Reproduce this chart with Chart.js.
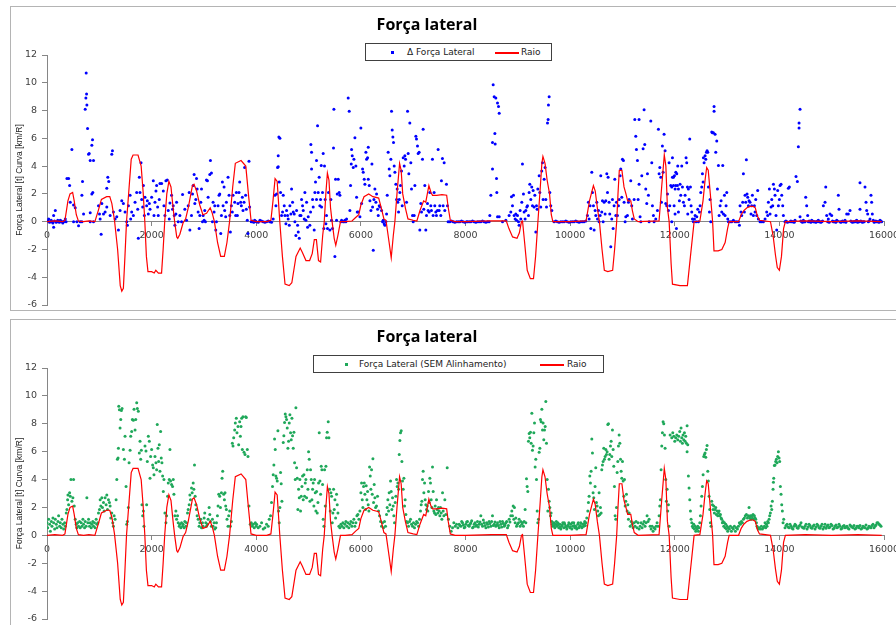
<!DOCTYPE html>
<html>
<head>
<meta charset="utf-8">
<script src="https://cdn.jsdelivr.net/npm/chart.js@4.4.1/dist/chart.umd.min.js"></script>
<style>
  html, body { margin: 0; padding: 0; background: #fff; width: 896px; height: 625px; overflow: hidden; position: relative; }
  .box { position: absolute; border: 1px solid #b4b4b4; box-sizing: border-box; }
  canvas { position: absolute; }
  .title { position: absolute; left: 0; width: 854px; text-align: center; font: bold 16px "Open Sans", sans-serif; line-height: 22px; color: #000; }
  .legend { position: absolute; border: 1px solid #404040; box-sizing: border-box; height: 18px; background: #fff;
            font: 9px "DejaVu Sans", sans-serif; color: #222; }
  .legend span { position: absolute; top: 2px; line-height: 12px; white-space: nowrap; }
  .legend .dot { position: absolute; width: 3px; height: 3px; top: 7px; }
  .legend .ln { position: absolute; height: 1.5px; top: 8px; width: 24px; background: #ff0000; }
</style>
</head>
<body>
<div class="box" style="left:10px; top:6px; width:900px; height:305px;"></div>
<div class="box" style="left:10px; top:319px; width:900px; height:320px;"></div>

<canvas id="chartTop" width="900" height="302" style="left:11px; top:7px;"></canvas>
<canvas id="chartBottom" width="900" height="305" style="left:11px; top:320px;"></canvas>

<div class="title" style="top:13px;">Força lateral</div>
<div class="legend" style="left:365px; top:43px; width:187px;">
  <div class="dot" style="left:25px; background:#0000ff;"></div>
  <span style="left:41px;">Δ Força Lateral</span>
  <div class="ln" style="left:129px;"></div>
  <span style="left:155px;">Raio</span>
</div>

<div class="title" style="top:325px;">Força lateral</div>
<div class="legend" style="left:313px; top:355px; width:291px;">
  <div class="dot" style="left:31px; background:#1fa85a;"></div>
  <span style="left:45px;">Força Lateral (SEM Alinhamento)</span>
  <div class="ln" style="left:226px;"></div>
  <span style="left:253px;">Raio</span>
</div>

<script>
// axis ticks
const xTicks = [0, 2000, 4000, 6000, 8000, 10000, 12000, 14000, 16000];
const yTicks = [-6, -4, -2, 0, 2, 4, 6, 8, 10, 12];
const yAxisTitle = 'Força Lateral [t] Curva [km/R]';

// Raio (curvature) - same line in both charts
const raio = [
  [0,0],[150,0.05],[300,0],[343,0.1],[400,1.5],[440,2.0],[490,2.1],[520,1.5],[560,0.5],[600,0.05],[700,0],[800,0.05],
  [915,0],[980,0.8],[1040,1.6],[1140,1.8],[1200,1.8],[1240,1.3],[1290,0.1],[1350,-2.0],[1400,-4.6],[1430,-5.0],[1460,-4.8],
  [1490,-2.5],[1520,0],[1570,2.5],[1610,4.5],[1645,4.8],[1740,4.8],[1800,4.0],[1840,2.0],[1870,0],[1900,-2.5],[1930,-3.6],
  [2000,-3.6],[2050,-3.7],[2080,-3.5],[2130,-3.7],[2190,-3.7],[2220,-2.0],[2250,0],[2290,2.0],[2330,2.9],[2370,2.5],
  [2410,1.0],[2440,0],[2480,-1.1],[2500,-1.2],[2540,-0.9],[2600,-0.1],[2650,0.2],[2700,1.0],[2780,2.6],[2810,2.7],
  [2860,2.2],[2920,1.2],[2980,0.5],[3050,0.6],[3120,1.0],[3160,0.6],[3200,0],[3260,-1.5],[3320,-2.5],[3390,-2.5],
  [3440,-1.5],[3490,0],[3550,2.5],[3600,4.2],[3710,4.4],[3800,4.0],[3850,2.0],[3900,0.1],[4000,0],[4200,0],[4280,0.1],
  [4320,1.5],[4360,3.1],[4400,2.9],[4450,0],[4500,-2.5],[4550,-4.5],[4630,-4.6],[4680,-4.4],[4760,-2.5],[4840,-1.9],
  [4880,-2.2],[4950,-2.8],[5020,-2.8],[5070,-2.3],[5110,-1.3],[5150,-1.3],[5190,-2.8],[5230,-2.9],[5270,-1.0],[5300,0],
  [5330,2.0],[5360,3.5],[5390,3.0],[5420,1.0],[5450,0],[5490,-1.2],[5520,-1.7],[5560,-1.0],[5610,0],[5700,0],[5830,0.05],
  [5900,0.3],[5960,0.5],[6000,1.2],[6060,1.8],[6150,2.0],[6230,1.8],[6340,1.7],[6390,1.0],[6440,0.2],[6480,0.1],
  [6540,-1.5],[6580,-2.6],[6620,-1.0],[6650,0],[6690,2.0],[6740,4.2],[6770,3.7],[6800,2.0],[6850,1.0],[6900,0.2],
  [7000,0.1],[7070,0.05],[7130,0.8],[7200,1.5],[7240,1.4],[7270,2.0],[7300,2.6],[7340,2.1],[7370,1.9],[7450,1.9],
  [7550,1.95],[7640,1.9],[7670,1.0],[7710,0.1],[7800,0],[8000,0],[8500,0.05],[8780,0.05],[8830,-0.5],[8900,-1.1],
  [8985,-1.2],[9030,-0.8],[9070,0],[9090,0.05],[9130,-1.5],[9180,-3.5],[9240,-4.1],[9300,-4.1],[9340,-2.5],[9384,0],
  [9430,2.5],[9460,4.2],[9480,4.7],[9520,4.2],[9560,3.0],[9607,2.0],[9640,0.5],[9670,0],[10000,0],[10305,0.05],
  [10370,1.5],[10445,2.6],[10480,2.2],[10520,1.0],[10560,0],[10610,-2.0],[10654,-3.5],[10720,-3.6],[10813,-3.5],
  [10850,-2.0],[10890,0],[10915,2.0],[10940,3.7],[10990,3.7],[11030,2.5],[11067,2.0],[11100,1.5],[11160,1.5],[11190,0.8],
  [11226,0.2],[11300,0],[11700,0.05],[11750,2.5],[11800,4.8],[11830,4.0],[11860,1.0],[11893,0],[11930,-3.0],[11956,-4.5],
  [12100,-4.6],[12242,-4.6],[12300,-2.5],[12370,0],[12480,0.05],[12540,1.5],[12580,3.0],[12610,3.9],[12640,3.7],
  [12680,2.0],[12724,0],[12750,-2.1],[12830,-2.1],[12900,-2.0],[12963,-1.5],[13010,-0.5],[13040,0],[13220,0],[13270,0.5],
  [13320,0.8],[13380,1.0],[13446,1.1],[13500,1.1],[13540,1.0],[13580,0.4],[13620,0.1],[13830,0],[13880,-1.0],[13925,-2.4],
  [13960,-3.3],[14000,-3.5],[14040,-2.5],[14080,-0.5],[14115,0],[14500,0.05],[15000,0],[15500,0.05],[15957,0]
];

// Δ Força Lateral (top chart)
const deltaForca = [
  [32,0.2],[64,0],[127,0.45],[159,0.8],[190,0],[254,0.1],[318,0],[350,0.2],[127,-0.4],
  [16,0.05],[48,-0.05],[80,0.1],[96,0],[112,-0.1],[143,0.05],[175,-0.05],[206,0.1],[222,0],[238,-0.05],[270,0.05],
  [286,0],[302,-0.1],[334,0.05],[365,0],
  [381,3.1],[413,3.1],[432,2.6],[445,1.4],[476,5.2],[508,1.2],[508,0],[540,1.0],[572,0],[603,-0.3],[635,0],
  [667,1.9],[679,2.9],[730,8.1],[743,8.9],[756,9.2],[749,10.7],[762,8.4],[775,6.7],[794,4.85],[806,4.9],[826,4.4],
  [857,5.5],[870,5.9],[889,4.4],[857,2.0],[876,2.1],[826,0.65],[826,0],[889,0],[699,0.55],[667,0],
  [984,1.15],[1003,0.55],[1016,0.2],[1035,-0.9],[1048,1.3],[1080,0.55],[1111,0.7],[1143,1.05],[1143,2.4],[1162,3.2],
  [1181,2.9],[1207,0.45],[1238,4.85],[1251,5.1],[1270,0.7],[1302,0.2],[1334,0.35],[1365,-0.6],[1397,0.8],[1429,1.5],
  [1460,1.3],[1492,0.7],[1524,0],[1537,-0.25],[1556,1.15],[1588,1.9],[1600,0.2],[1619,0.7],[1651,0.45],[1683,1.4],
  [1715,2.1],[1734,0.9],[1746,-1.2],[1765,3.2],[1778,2.1],[1797,4.25],[1810,1.6],[1829,1.05],[1842,2.6],[1861,0.45],
  [1873,1.75],[1905,1.15],[1918,1.5],[1937,0.55],[1956,1.3],[1969,0.9],[2000,1.75],[2032,2.95],[2045,0.45],[2064,1.4],
  [2083,2.2],[2096,2.6],[2115,1.05],[2127,0.45],[2146,1.6],[2159,2.75],[2191,2.75],[2223,2.2],[2235,1.15],[2254,0.45],
  [2273,2.95],[2299,3.0],[2318,0.8],[2337,0.2],[2350,1.35],[2381,1.9],[2400,0.9],[2413,1.15],[2432,0.45],[2445,-0.25],
  [2464,0.55],[2477,1.4],[2508,0],[2540,0.45],[2572,0],[2591,1.95],[2635,0.9],[2667,0.1],[2699,1.15],[2718,2.1],
  [2731,-0.6],[2762,0.45],[2781,2.0],[2794,2.6],[2813,3.4],[2826,1.3],[2845,1.6],[2858,3.1],[2870,2.35],[2889,0.7],
  [2908,-0.5],[2921,0.45],[2940,1.4],[2953,2.35],[2972,0],[2985,0.45],[3004,0.1],[3016,0.8],[3029,0],[3048,3.0],
  [3067,2.95],[3080,1.75],[3112,3.4],[3124,4.4],[3143,3.5],[3162,0],[3175,1.4],[3194,0.7],[3207,1.15],[3226,-0.6],
  [3239,0],[3270,1.15],[3289,1.9],[3302,2.0],[3321,-0.85],[3334,0.45],[3353,2.85],[3366,1.15],[3385,2.5],[3397,0.8],
  [3416,0.35],[3429,1.4],[3461,3.2],[3480,1.9],[3493,0.45],[3505,-0.75],[3524,1.15],[3543,0.7],[3556,1.9],[3588,1.4],
  [3607,0.45],[3620,2.1],[3639,0.45],[3651,1.3],[3670,2.1],[3683,2.85],[3702,1.4],[3715,1.15],[3734,1.75],[3747,0.8],
  [3766,1.4],[3778,3.9],[3797,1.9],[3810,0.9],[3829,0.1],[3842,-0.85],[3861,4.35],[3873,1.05],[3905,0],[3937,0],
  [3969,0.1],[4000,0],[3921,0.05],[3953,-0.05],[3985,0.05],[4038,-0.05],[4102,0.05],[4165,-0.05],[4229,0.05],[4292,-0.05],
  [4070,0.1],[4133,0],[4197,0],[4260,0],[4324,0.2],[4357,1.9],[4376,1.15],[4388,2.0],[4407,3.9],[4420,3.95],[4420,4.75],
  [4433,6.1],[4452,6.0],[4439,2.85],[4465,2.1],[4484,0.45],[4503,0.7],[4516,1.9],[4535,1.15],[4548,0.45],[4567,-0.15],
  [4580,0.8],[4599,0.45],[4611,0.2],[4631,-0.25],[4643,1.15],[4662,0.55],[4675,2.35],[4694,1.4],[4707,0.7],[4726,0.55],
  [4739,0],[4758,-1.0],[4771,0.8],[4790,-0.25],[4803,-0.75],[4822,-1.2],[4834,0.45],[4854,0.45],[4866,1.6],[4885,1.15],
  [4898,0.8],[4917,0.2],[4930,2.1],[4949,0.1],[4962,1.4],[4981,-0.4],[4994,0.35],[5025,-0.25],[5038,0.7],[5044,5.55],
  [5057,5.0],[5057,3.8],[5076,1.6],[5089,1.05],[5108,-0.6],[5121,2.1],[5133,2.85],[5152,4.4],[5152,1.6],[5172,6.9],
  [5184,2.1],[5203,3.2],[5216,1.15],[5229,1.6],[5242,4.05],[5248,1.05],[5267,2.1],[5280,4.9],[5292,-0.5],[5305,4.0],
  [5318,1.6],[5331,-0.15],[5343,0.45],[5362,-0.5],[5381,2.1],[5407,-0.6],[5426,1.6],[5439,0.1],[5458,-0.5],[5477,5.3],
  [5484,8.1],[5503,-2.5],[5516,3.05],[5535,0.1],[5548,2.0],[5567,3.05],[5586,2.1],[5599,1.9],[5618,0],[5631,0.1],
  [5662,0],[5681,0],[5694,0.1],[5713,0],[5726,0.2],[5758,8.9],[5777,7.95],[5790,0.8],[5803,2.6],[5816,4.15],[5822,5.2],
  [5835,4.75],[5854,3.9],[5867,4.5],[5886,6.05],[5905,4.0],[5918,1.75],[5931,0.7],[5950,0.7],[5982,0.35],[6000,6.75],
  [6013,1.3],[6032,3.8],[6045,3.55],[6064,3.05],[6077,2.7],[6096,5.0],[6109,4.5],[6128,4.6],[6141,5.35],[6141,3.05],
  [6160,2.6],[6173,1.5],[6192,0.8],[6211,4.15],[6224,1.05],[6237,-2.05],[6250,1.6],[6268,2.35],[6287,1.4],[6300,2.0],
  [6319,0.9],[6332,0.45],[6351,1.15],[6364,1.05],[6395,0.8],[6415,0],[6427,0.1],[6446,-0.15],[6459,-0.25],[6478,0],
  [6491,0.55],[6504,1.9],[6522,5.0],[6541,3.8],[6554,3.3],[6573,4.5],[6586,7.95],[6599,6.6],[6612,6.1],[6624,5.7],
  [6637,4.0],[6650,3.55],[6669,2.7],[6682,1.6],[6694,2.35],[6707,1.4],[6720,0.7],[6733,1.6],[6745,2.1],[6758,2.6],
  [6777,3.65],[6790,1.15],[6809,4.6],[6828,4.0],[6841,4.75],[6854,4.5],[6873,1.4],[6892,7.95],[6904,4.9],[6917,3.45],
  [6936,7.1],[6955,4.25],[6968,2.35],[6987,0.45],[7000,0],[7019,0.45],[7032,2.6],[7051,6.15],[7063,5.95],[7082,5.45],
  [7095,4.9],[7114,5.0],[7127,-0.6],[7146,1.3],[7159,0.7],[7178,4.5],[7190,6.65],[7203,0.9],[7222,2.6],[7241,-0.6],
  [7254,0.45],[7273,1.3],[7286,0.8],[7305,0.7],[7318,2.1],[7337,1.15],[7349,0.8],[7368,4.5],[7381,0.45],[7400,2.1],
  [7413,1.15],[7432,0.7],[7445,0.45],[7464,0.8],[7477,5.2],[7496,0.8],[7508,1.15],[7528,0.45],[7540,2.95],[7559,4.55],
  [7572,1.15],[7592,4.25],[7604,0.8],[7636,2.7],[7655,1.15],[7668,0],[7700,0],[7764,0],[7828,0],[7891,0],[7955,0],[8019,0],
  [7732,0.05],[7796,-0.05],[7860,0],[7923,0.05],[7987,-0.05],[8070,0],[8134,0.05],[8197,-0.05],[8261,0],[8325,0.05],
  [8389,-0.05],[8452,0],
  [8038,0],[8102,0],[8165,0],[8229,0],[8293,0],[8357,0],[8420,0],[8465,0.45],[8485,1.9],[8516,3.8],[8516,5.7],[8529,9.85],
  [8548,9.0],[8561,6.35],[8567,5.6],[8580,8.9],[8593,3.1],[8599,2.1],[8612,8.55],[8631,8.3],[8644,7.8],[8612,0.35],
  [8644,0.35],[8707,0],[8771,0.1],[8834,0.45],[8866,0.7],[8879,1.8],[8898,1.15],[8917,1.9],[8930,0.45],[8949,0.2],
  [8962,0.55],[8975,0.1],[8994,0.45],[9013,0],[9025,-0.25],[9044,0.8],[9057,0.2],[9076,1.4],[9089,4.15],[9108,2.0],
  [9121,0.7],[9140,0.2],[9153,0.8],[9172,1.05],[9185,1.15],[9204,0.45],[9216,2.1],[9229,2.7],[9248,1.6],[9267,2.5],
  [9280,1.15],[9293,2.25],[9312,1.05],[9325,1.9],[9344,-0.75],[9357,1.15],[9369,0.9],[9382,2.35],[9408,3.3],[9420,2.1],
  [9439,1.05],[9458,3.65],[9471,4.25],[9484,1.6],[9503,3.05],[9522,3.9],[9535,1.6],[9548,1.05],[9567,7.1],[9580,7.35],
  [9586,8.4],[9599,9.0],[9612,2.1],[9630,1.15],[9650,0.8],[9694,0],[9758,0],[9822,0],[9885,0],[9949,0],[10013,0],
  [10076,0],[10140,0],[10204,0],[10267,0],
  [9726,0.05],[9790,-0.05],[9854,0],[9917,0.05],[9981,-0.05],[10045,0],[10108,0.05],[10172,-0.05],[10236,0],[10300,0.05],
  [10331,0.45],[10350,1.4],[10363,0.2],[10382,1.15],[10395,-0.5],[10414,3.55],[10427,2.1],[10446,1.15],[10459,-0.6],
  [10478,0.8],[10491,0.45],[10510,1.4],[10523,0.2],[10542,0.8],[10554,0],[10574,0.45],[10586,3.3],[10605,0.7],[10618,1.5],
  [10631,0],[10650,1.4],[10669,0.55],[10682,1.5],[10701,3.45],[10714,2.1],[10726,3.2],[10745,1.4],[10758,0.55],
  [10777,-1.8],[10796,0.2],[10809,1.6],[10822,-0.5],[10841,1.15],[10854,3.05],[10873,0.45],[10886,1.4],[10905,0.45],
  [10924,1.15],[10937,1.6],[10956,3.3],[10968,3.8],[10987,1.75],[11000,4.5],[11019,4.4],[11032,1.4],[11051,0],[11064,0.35],
  [11096,0.45],[11115,1.4],[11127,1.6],[11159,2.95],[11178,1.15],[11191,0.2],[11223,1.6],[11236,7.35],[11255,6.15],
  [11268,5.2],[11287,4.4],[11300,1.6],[11318,7.35],[11318,2.7],[11337,0.35],[11351,0],[11370,3.3],[11395,5.25],[11414,8.05],
  [11427,5.55],[11446,2.35],[11465,1.3],[11478,3.45],[11497,1.9],[11510,0],[11542,7.25],[11561,4.25],[11573,1.15],
  [11592,0.45],[11605,0],[11637,0.2],[11669,0.8],[11688,6.65],[11701,3.45],[11714,3.9],[11733,3.2],[11746,1.4],[11764,5.45],
  [11777,3.55],[11796,6.3],[11815,5.1],[11828,1.3],[11847,1.15],[11860,2.0],[11879,0.8],[11892,4.25],[11905,1.15],
  [11924,2.6],[11943,0],[11956,3.2],[11975,2.6],[11988,1.15],[12007,2.35],[12020,3.55],[12032,-0.5],[12051,2.6],[12070,0.7],
  [11943,2.5],[11956,4.6],[11975,3.2],[11994,3.3],[12006,0.55],[12019,2.6],[12038,3.45],[12057,4.0],[12070,2.35],
  [12089,1.5],[12102,2.7],[12115,1.9],[12134,4.0],[12147,2.5],[12166,1.4],[12185,1.15],[12198,1.9],[12216,4.6],[12229,4.25],
  [12242,2.5],[12249,0.55],[12261,2.35],[12274,1.6],[12287,5.95],[12300,2.5],[12312,1.15],[12325,0.7],[12338,0.2],[12357,0],
  [12376,0.2],[12389,0.45],[12408,0],[12421,0.35],[12440,0.9],[12452,0],[12472,0.7],[12484,1.15],[12497,2.1],[12516,2.5],
  [12529,3.45],[12542,2.85],[12548,4.6],[12561,4.25],[12580,4.75],[12593,4.5],[12606,5.0],[12618,5.1],[12631,5.0],
  [12644,2.5],[12663,0.7],[12675,1.6],[12688,0],[12707,6.45],[12720,6.4],[12739,6.4],[12752,8.3],[12752,7.95],[12771,6.3],
  [12784,5.0],[12803,5.8],[12816,2.35],[12835,4.05],[12848,0.45],[12867,1.15],[12886,1.5],[12899,0.7],[12918,4.05],
  [12931,0.55],[12950,1.9],[12962,0.45],[12981,1.15],[12994,2.1],[13013,0.2],[13026,0],[13057,0],[13089,0],[13121,0.1],
  [13153,0],[13185,0],[13217,0],[13236,-0.25],[13248,1.15],[13267,0.7],[13280,0.45],[13299,1.4],[13312,3.45],[13331,0.7],
  [13344,1.9],[13357,1.4],[13369,4.45],[13382,2.0],[13395,1.75],[13408,1.15],[13420,1.5],[13439,1.4],[13458,0.55],
  [13471,1.15],[13484,1.9],[13503,0.45],[13522,1.15],[13535,0.7],[13548,1.6],[13567,0.45],[13586,2.25],[13599,0.2],
  [13631,0],[13662,0],[13694,0],[13726,0.2],[13758,0.7],[13777,0.45],[13790,1.4],[13809,2.35],[13822,0.55],[13841,1.05],
  [13854,1.6],[13873,1.15],[13886,2.7],[13905,2.35],[13917,1.9],[13936,0.45],[13949,-0.6],[13968,2.25],[13981,1.15],
  [14000,1.6],[14013,2.6],[14032,2.7],[14045,1.9],[14064,1.15],[14077,0.45],[14108,0],[14140,0],[14172,2.4],[14191,2.5],
  [14204,0],[14236,0],[14268,0],[14299,0.1],[14318,3.25],[14344,2.9],[14363,5.4],[14376,6.75],[14376,7.1],[14395,8.1],
  [14395,0.35],[14427,0],[14459,0.1],[14491,0],[14503,1.75],[14522,1.15],[14541,0.45],[14554,0],[14586,0],[14618,0.1],
  [14650,0],[14682,0],[14714,0],[14745,0.1],[14777,0],[14809,0],[14841,1.15],[14873,1.4],[14886,2.5],[14905,0.45],
  [14924,0],[14936,0.2],[14968,0.55],[15000,0.45],[15032,0],[15064,0],[15096,0.1],[15127,1.9],[15140,0.9],[15159,0],
  [15191,0],[15223,0],[15255,0.1],[15287,0.55],[15318,0.55],[15350,0.8],[15382,0],[15414,0],[15446,0],[15478,0.1],
  [15509,0],[15541,2.8],[15541,0.9],[15573,0],[15605,0],[15637,2.5],[15656,1.4],[15669,0.8],[15688,0.55],[15700,0],
  [15732,0.2],[15751,1.9],[15764,1.4],[15777,0.55],[15796,0.1],[15828,0],[15860,0],[15891,0],[15923,0.1],[15955,0],
  [14124,0.05],[14156,-0.05],[14220,0.05],[14252,0],[14284,-0.05],[14411,0.05],[14443,-0.05],[14475,0],[14570,0.05],
  [14602,-0.05],[14634,0.05],[14666,0],[14698,-0.05],[14730,0.05],[14761,0],[14793,-0.05],[14825,0.05],[14952,-0.05],
  [15016,0.05],[15048,0],[15080,-0.05],[15112,0.05],[15175,-0.05],[15207,0.05],[15239,0],[15271,-0.05],[15366,0.05],
  [15398,-0.05],[15430,0],[15462,0.05],[15494,-0.05],[15525,0],[15557,0.05],[15589,-0.05],[15621,0],[15716,0.05],
  [15812,-0.05],[15844,0.05],[15876,0],[15907,-0.05],[15939,0.05]
];

// Força Lateral (SEM Alinhamento) (bottom chart)
const forcaSemAlinhamento = [
  [0,0.9],[13,0.55],[32,1.15],[51,0.8],[64,0.3],[83,1.0],[95,0.65],[114,1.25],[127,0.9],[146,0.45],[159,1.15],[178,0.8],
  [190,0.55],[210,1.0],[222,1.4],[241,0.65],[254,0.9],[273,0.55],[286,1.15],[305,0.8],[318,0.45],[337,0.9],[349,0.65],
  [368,1.6],[381,1.85],[394,2.55],[400,2.9],[413,2.2],[432,3.05],[445,2.8],[457,4.0],[476,2.45],[495,2.7],[508,4.0],
  [521,2.1],[540,1.15],[559,0.8],[572,0.55],[584,0.9],[603,0.65],[622,1.0],[635,0.55],[654,0.9],[667,0.65],[686,1.15],
  [699,0.8],[718,0.55],[730,1.0],[749,0.65],[762,2.7],[781,0.9],[794,1.15],[813,0.65],[826,0.9],[845,0.55],[857,0.8],
  [876,1.0],[889,0.65],[908,0.9],[921,0.55],[940,1.15],[953,0.8],[972,0.9],[984,1.6],[1003,1.85],[1016,2.55],[1029,2.1],
  [1048,2.7],[1060,2.0],[1080,2.35],[1092,1.75],[1111,2.7],[1130,2.2],[1143,2.9],[1156,1.85],[1175,2.55],[1194,2.35],
  [1207,2.1],[1219,1.25],[1238,1.6],[1257,0.9],[1270,0.65],[1283,1.4],[1302,1.15],[1321,2.55],[1334,4.0],[1346,5.45],
  [1359,5.55],[1365,6.25],[1372,9.25],[1384,9.0],[1397,7.7],[1410,8.3],[1422,8.95],[1435,9.1],[1460,6.15],[1480,5.45],
  [1492,7.1],[1511,3.5],[1524,0.8],[1537,1.0],[1556,2.0],[1569,5.2],[1588,6.1],[1600,7.1],[1619,7.45],[1632,8.3],
  [1651,8.25],[1664,9.05],[1683,7.55],[1696,8.3],[1715,9.5],[1727,9.1],[1746,8.9],[1765,5.9],[1778,6.75],[1791,5.45],
  [1803,6.1],[1816,2.2],[1829,1.4],[1842,1.75],[1854,0.65],[1873,6.4],[1892,6.05],[1905,2.2],[1918,5.3],[1937,7.1],
  [1956,6.75],[1969,4.1],[1981,5.65],[2000,6.15],[2019,5.05],[2032,4.85],[2045,4.35],[2064,5.65],[2083,5.2],[2096,4.7],
  [2108,7.95],[2121,6.25],[2134,5.3],[2146,6.5],[2159,4.6],[2172,7.45],[2184,5.55],[2197,5.2],[2210,4.25],[2223,3.15],
  [2235,4.0],[2254,1.6],[2273,0.9],[2286,1.4],[2305,2.8],[2318,3.75],[2337,4.0],[2350,6.15],[2362,3.9],[2381,3.65],
  [2400,3.5],[2413,4.0],[2426,2.95],[2445,1.4],[2464,1.75],[2477,1.15],[2496,1.4],[2508,0.9],[2527,0.65],[2540,0.8],
  [2559,0.55],[2572,0.9],[2591,0.65],[2603,0.8],[2622,0.55],[2635,1.0],[2654,0.65],[2667,0.9],[2686,1.6],[2699,1.85],
  [2718,2.2],[2731,2.9],[2743,2.55],[2762,3.4],[2775,3.05],[2794,3.75],[2807,3.3],[2819,5.05],[2832,2.8],[2845,2.2],
  [2858,1.85],[2870,1.4],[2889,1.15],[2908,0.65],[2921,0.9],[2940,1.15],[2953,0.55],[2972,0.9],[2985,0.65],[3004,1.25],
  [3016,1.6],[3035,0.9],[3048,0.65],[3067,0.8],[3080,1.15],[3099,2.0],[3112,1.5],[3124,1.0],[3143,0.65],[3162,1.15],
  [3175,0.65],[3194,0.9],[3207,0.45],[3226,0.55],[3239,0.9],[3258,1.4],[3270,2.1],[3283,2.95],[3302,2.8],[3315,2.0],
  [3334,3.05],[3346,4.1],[3359,4.6],[3378,2.95],[3391,2.55],[3403,3.05],[3416,2.1],[3429,1.85],[3441,1.15],[3461,0.65],
  [3473,1.4],[3492,1.75],[3505,0.65],[3524,1.0],[3543,6.6],[3556,6.4],[3569,7.0],[3588,7.55],[3600,8.05],[3619,8.4],
  [3632,7.35],[3651,7.8],[3664,6.5],[3683,8.15],[3696,7.1],[3708,7.8],[3721,8.4],[3734,6.15],[3746,8.5],[3766,5.95],
  [3785,5.8],[3797,8.5],[3810,8.45],[3829,6.15],[3842,5.65],[3861,2.1],[3886,0.8],[3905,0.9],[3924,0.65],[3943,0.8],
  [3962,0.55],[3981,0.9],[4000,0.65],
  [4006,0.8],[4038,0.55],[4070,0.65],[4102,0.9],[4133,0.45],[4165,0.55],[4197,0.8],[4229,0.65],[4248,1.15],[4273,1.4],
  [4292,2.35],[4311,3.5],[4324,4.35],[4337,5.05],[4350,6.9],[4363,6.15],[4375,4.25],[4388,4.1],[4401,3.9],[4414,7.5],
  [4426,1.75],[4439,0.9],[4452,2.0],[4465,4.5],[4477,3.7],[4490,2.45],[4516,6.65],[4528,7.15],[4541,8.1],[4554,8.7],
  [4567,8.5],[4580,8.3],[4592,7.7],[4605,6.25],[4618,6.75],[4631,8.05],[4643,8.65],[4656,7.35],[4669,6.85],[4682,8.4],
  [4694,7.15],[4707,6.25],[4720,7.4],[4733,5.2],[4745,4.0],[4758,9.15],[4771,4.85],[4784,4.1],[4796,1.85],[4809,3.3],
  [4822,2.7],[4834,4.0],[4847,1.75],[4860,2.8],[4873,3.5],[4885,4.25],[4898,2.55],[4911,4.35],[4924,2.8],[4937,3.75],
  [4949,4.0],[4962,2.7],[4975,4.7],[4988,3.3],[5000,6.0],[5013,5.45],[5026,2.45],[5038,4.7],[5051,4.0],[5064,2.55],
  [5077,3.3],[5089,3.75],[5102,2.1],[5115,4.0],[5128,3.05],[5140,1.75],[5153,3.15],[5166,1.6],[5179,2.35],[5191,3.75],
  [5204,7.35],[5217,3.9],[5230,2.95],[5242,4.95],[5255,4.7],[5268,3.65],[5280,1.15],[5293,0.65],[5306,4.7],[5319,2.1],
  [5332,4.95],[5344,7.0],[5357,7.4],[5376,8.15],[5389,7.0],[5402,3.3],[5414,1.75],[5427,3.05],[5440,2.8],[5453,0.9],
  [5465,1.6],[5478,3.3],[5491,1.85],[5504,2.55],[5517,1.25],[5535,2.95],[5548,2.2],[5561,1.6],[5580,0.65],[5599,0.55],
  [5618,0.8],[5637,0.65],[5656,0.9],[5675,0.55],[5694,0.8],[5713,1.0],[5732,0.65],[5751,0.9],[5770,0.55],[5790,0.8],
  [5809,1.0],[5828,0.65],[5847,0.9],[5866,1.15],[5885,0.65],[5905,0.9],[5924,1.4],[5943,1.5],[5962,1.15],[5981,1.75],
  [6000,3.05],[6013,3.75],[6026,2.55],[6038,2.0],[6051,3.5],[6064,3.75],[6077,2.95],[6089,1.85],[6102,3.55],[6115,2.55],
  [6128,3.15],[6140,2.2],[6153,1.75],[6166,4.9],[6179,4.25],[6191,3.3],[6204,4.7],[6217,2.95],[6230,5.5],[6242,2.35],
  [6255,3.65],[6268,2.7],[6281,2.0],[6299,2.1],[6318,2.8],[6338,1.75],[6357,1.4],[6376,1.0],[6395,0.65],[6414,0.9],
  [6433,0.55],[6452,1.0],[6471,0.65],[6490,1.5],[6503,2.0],[6516,2.55],[6529,1.75],[6541,3.05],[6554,2.2],[6567,3.9],
  [6580,3.15],[6592,1.85],[6605,2.7],[6618,2.1],[6630,1.4],[6643,0.9],[6656,2.35],[6669,2.8],[6682,4.0],[6694,3.5],
  [6707,3.75],[6720,3.3],[6733,5.8],[6745,6.8],[6758,7.35],[6771,7.5],[6784,5.3],[6796,3.9],[6809,3.3],[6822,4.1],
  [6835,2.1],[6847,2.55],[6860,1.5],[6873,1.0],[6892,0.9],[6911,0.65],[6930,1.0],[6949,1.15],[6968,0.8],[6987,0.65],
  [7006,0.9],[7025,0.55],[7045,0.8],[7064,1.0],[7083,0.9],[7102,0.65],[7121,1.15],[7140,1.75],[7153,2.2],[7166,2.45],
  [7178,4.0],[7191,4.6],[7204,3.05],[7217,3.75],[7229,2.55],[7242,2.2],[7255,1.85],[7268,2.1],[7280,1.75],[7293,3.15],
  [7306,2.35],[7318,4.1],[7331,3.75],[7344,2.55],[7357,2.0],[7369,4.9],[7382,3.15],[7395,1.75],[7408,1.6],[7420,2.1],
  [7433,1.5],[7446,2.55],[7459,1.85],[7471,1.6],[7484,2.0],[7497,1.75],[7510,1.4],[7522,2.0],[7535,1.6],[7548,1.15],
  [7561,3.05],[7573,1.75],[7586,1.4],[7605,2.55],[7624,1.5],[7650,4.85],[7675,1.15],[7701,0.65],[7726,0.3],[7752,0.55],
  [7777,0.9],[7803,0.65],[7828,0.8],[7854,0.55],
  [7879,0.8],[7911,0.65],[7943,0.9],[7975,0.55],[8006,0.8],[8038,1.0],[8070,0.65],[8102,0.9],[8134,0.55],[8166,0.8],
  [8197,0.65],[8229,1.0],[8261,0.8],[8293,1.4],[8325,0.65],[8357,0.9],[8389,0.55],[8421,0.8],[8452,1.0],[8484,0.65],
  [8516,1.4],[8548,0.8],[8580,0.65],[8612,0.9],[8644,0.55],[8675,0.8],[8707,1.0],[8739,0.65],[8771,0.9],[8803,0.55],
  [7895,0.7],[7927,1.0],[7959,0.75],[7991,0.6],[8022,0.95],[8054,0.7],[8086,0.8],[8118,1.05],[8150,0.6],[8182,0.9],
  [8213,0.75],[8245,0.6],[8277,0.95],[8309,0.8],[8341,1.1],[8373,0.7],[8405,0.9],[8437,0.6],[8468,0.85],[8500,1.0],
  [8532,0.7],[8564,0.95],[8596,0.75],[8628,0.7],[8660,1.0],[8691,0.6],[8723,0.85],[8755,0.75],[8787,1.0],[8819,0.7],
  [8850,0.95],
  [8835,1.15],[8866,1.4],[8885,1.75],[8898,1.4],[8911,2.1],[8924,1.15],[8936,2.0],[8949,0.9],[8962,1.25],[8975,0.65],
  [8994,0.8],[9013,0.9],[9025,1.15],[9044,0.65],[9057,1.0],[9076,0.8],[9089,0.9],[9108,0.65],[9121,1.0],[9140,1.85],
  [9153,0.9],[9166,4.05],[9178,3.5],[9191,3.15],[9204,6.75],[9217,7.3],[9229,7.0],[9242,7.4],[9255,6.6],[9268,8.75],
  [9280,6.1],[9293,6.4],[9306,7.35],[9319,8.05],[9331,4.9],[9344,5.45],[9357,4.0],[9370,1.75],[9382,0.9],[9395,1.15],
  [9408,5.95],[9421,6.25],[9433,8.3],[9446,8.15],[9459,9.05],[9472,7.55],[9484,8.05],[9497,6.85],[9510,7.55],[9523,7.8],
  [9535,9.6],[9548,6.6],[9561,4.0],[9574,1.75],[9586,3.3],[9599,2.45],[9612,2.0],[9625,1.4],[9637,1.6],[9650,1.0],
  [9669,0.65],[9688,0.9],[9707,0.55],[9726,0.8],[9745,0.65],[9765,0.9],[9784,0.55],[9803,0.8],[9822,0.45],[9841,0.65],
  [9860,0.9],[9879,0.55],[9898,0.8],[9917,0.65],[9936,0.45],[9955,0.65],[9975,0.9],[9994,0.55],[10013,0.8],[10032,0.45],
  [10051,0.65],[10070,0.9],[10089,0.55],[10108,0.65],[10127,0.45],[10146,0.8],[10166,0.55],[10185,0.65],[10204,0.9],
  [10223,0.55],[10242,0.8],[10261,0.65],[10280,1.0],[10299,0.9],
  [9660,0.8],[9698,0.7],[9736,1.0],[9774,0.75],[9812,0.6],[9850,0.75],[9888,0.9],[9926,0.6],[9964,0.75],[10003,0.6],
  [10041,0.9],[10079,0.7],[10117,0.55],[10156,0.9],[10194,0.7],[10232,0.6],[10270,0.85],[10290,0.7],
  [10318,1.25],[10338,1.75],[10350,2.35],[10363,2.8],
  [10376,4.25],[10388,3.75],[10401,4.6],[10414,6.9],[10427,5.9],[10439,3.05],[10452,2.7],[10465,1.85],[10477,3.5],
  [10490,4.85],[10503,2.35],[10516,2.1],[10528,1.75],[10541,1.4],[10554,3.05],[10567,1.5],[10580,2.0],[10592,1.6],
  [10605,4.7],[10618,5.05],[10631,5.3],[10643,6.25],[10656,5.45],[10669,5.65],[10682,6.15],[10694,5.8],[10707,6.0],
  [10720,7.95],[10733,8.0],[10745,5.45],[10758,5.8],[10771,6.4],[10784,6.75],[10796,5.65],[10809,7.55],[10822,6.15],
  [10835,4.95],[10847,3.5],[10860,1.4],[10873,1.15],[10886,2.0],[10899,4.5],[10911,5.3],[10924,6.4],[10937,7.2],
  [10950,6.6],[10963,5.45],[10975,4.6],[10988,4.1],[11001,5.3],[11013,3.9],[11026,2.8],[11039,4.0],[11052,2.1],
  [11064,2.45],[11077,2.95],[11090,1.75],[11103,2.2],[11115,1.15],[11128,1.6],[11147,0.65],[11166,1.0],[11185,0.8],
  [11204,0.55],[11223,0.9],[11242,0.65],[11261,1.0],[11280,0.55],[11299,0.9],[11319,0.45],[11338,0.65],[11357,0.9],
  [11376,0.55],[11395,0.8],[11414,1.0],[11433,0.65],[11452,0.9],[11471,1.4],[11490,1.0],[11510,1.15],[11529,0.65],
  [11548,0.45],[11567,0.65],[11586,0.3],[11605,0.55],[11624,0.45],[11643,0.65],[11662,0.9],[11681,0.65],[11701,1.4],
  [11713,2.1],[11726,2.55],[11739,4.7],[11752,6.4],[11764,7.35],[11777,8.15],[11790,8.0],[11803,7.2],[11815,6.25],
  [11828,4.0],[11841,2.45],[11854,3.3],[11866,1.75],[11879,2.2],[11892,0.65],
  [11911,7.2],[11943,7.0],[11962,7.35],[11981,7.1],[12000,6.75],[12019,7.0],[12038,7.2],[12057,6.85],[12076,7.1],
  [12095,7.45],[12108,6.75],[12121,7.7],[12134,7.0],[12146,6.6],[12159,7.2],[12172,6.85],[12185,7.35],[12198,6.75],
  [12210,7.1],[12223,6.6],[12236,7.85],[12236,6.0],[12249,6.5],[12261,4.25],[12274,3.4],[12287,2.55],[12300,1.75],
  [12312,1.15],[12325,0.9],[12338,0.65],[12350,0.55],[12363,0.8],[12376,0.45],[12389,0.65],[12402,0.3],[12414,0.55],
  [12427,0.45],[12440,0.65],[12452,0.3],[12465,0.55],[12478,0.9],[12491,1.4],[12503,2.1],[12516,2.8],[12529,3.5],
  [12542,4.35],[12554,5.65],[12567,5.8],[12580,5.9],[12593,5.6],[12605,6.15],[12618,6.45],[12631,4.6],[12643,3.9],
  [12656,2.8],[12669,1.85],[12682,0.9],[12694,0.65],[12707,2.45],[12720,2.2],[12733,1.85],[12745,2.1],[12758,1.6],
  [12771,1.85],[12784,2.0],[12796,1.5],[12809,1.75],[12822,1.4],[12835,1.6],[12847,1.75],[12860,1.4],[12873,1.5],
  [12886,1.25],[12898,1.15],[12911,0.9],[12924,1.0],[12937,0.65],[12949,0.9],[12962,0.55],[12975,0.8],[12988,0.45],
  [13000,0.65],[13013,0.3],[13026,0.55],[13045,0.45],[13064,0.65],[13083,0.3],[13102,0.55],[13121,0.45],[13140,0.65],
  [13159,0.3],[13178,0.55],[13198,0.45],[13217,0.65],[13236,0.9],[13255,0.8],[13274,1.0],[13293,0.9],[13312,1.15],
  [13331,1.25],[13350,1.4],[13369,1.5],[13389,1.25],[13408,1.4],[13420,2.0],[13433,1.25],[13446,1.4],[13458,1.15],
  [13471,1.4],[13484,1.25],[13497,1.5],[13510,1.15],[13522,1.4],[13535,1.25],[13548,1.15],[13561,0.9],[13573,0.65],
  [13586,0.55],[13599,0.45],[13618,0.55],[13637,0.45],[13656,0.65],[13675,0.45],[13694,0.55],[13713,0.65],[13726,0.9],
  [13739,0.55],[13752,0.8],[13764,0.65],[13777,1.0],[13790,0.9],[13803,1.15],[13815,1.4],[13828,1.6],[13841,2.1],
  [13854,1.85],[13866,2.45],[13879,3.3],[13886,3.8],[13892,4.1],[13905,5.0],[13917,5.05],[13930,5.3],[13943,5.45],
  [13956,5.2],[13968,5.65],[13981,6.0],[13994,5.55],[14006,5.3],[14019,3.5],[14032,2.95],[14045,2.2],[14057,1.75],
  [14070,0.9],[14083,1.15],[14108,0.55],[14147,0.8],[14185,0.55],[14223,0.65],[14261,0.45],[14299,0.8],[14338,0.55],
  [14376,0.65],[14414,0.9],[14452,0.55],[14490,0.65],[14529,0.45],[14567,0.8],[14605,0.55],[14643,0.65],[14682,0.45],
  [14720,0.8],[14758,0.55],[14796,0.65],[14834,0.45],[14873,0.8],[14911,0.65],[14949,0.55],[14987,0.8],[15026,0.45],
  [15064,0.65],[15102,0.55],[15140,0.8],[15178,0.45],[15217,0.65],[15255,0.55],[15293,0.65],[15331,0.45],[15370,0.65],
  [15408,0.55],[15446,0.45],[15484,0.65],[15522,0.55],[15561,0.45],[15599,0.65],[15637,0.55],[15675,0.45],[15713,0.65],
  [15752,0.55],[15790,0.8],[15828,0.65],[15866,0.9],[15905,0.8],[15943,0.65],
  [14127,0.7],[14166,0.6],[14204,0.8],[14242,0.5],[14280,0.65],[14318,0.7],[14357,0.5],[14395,0.75],[14433,0.6],
  [14471,0.5],[14510,0.8],[14548,0.6],[14586,0.7],[14624,0.5],[14662,0.75],[14701,0.6],[14739,0.7],[14777,0.5],
  [14815,0.8],[14854,0.6],[14892,0.5],[14930,0.75],[14968,0.6],[15007,0.7],[15045,0.5],[15083,0.75],[15121,0.6],
  [15159,0.65],[15198,0.5],[15236,0.7],[15274,0.6],[15312,0.5],[15350,0.75],[15389,0.6],[15427,0.7],[15465,0.5],
  [15503,0.65],[15542,0.7],[15580,0.5],[15618,0.6],[15656,0.75],[15694,0.5],[15733,0.6],[15771,0.7],[15809,0.55],
  [15847,0.75],[15885,0.9],[15924,0.75]
];

const toXY = (pairs) => pairs.map(p => ({ x: p[0], y: p[1] }));

// Draws one panel: scatter series + red Raio line, axes crossing at y = 0
function drawPanel(canvasId, points, pointColor, seriesLabel, padBottom) {
    const ctx = document.getElementById(canvasId).getContext('2d');
    const axisColor = '#868686';

    return new Chart(ctx, {
        type: 'scatter',
        data: {
            datasets: [{
                label: 'Raio',
                type: 'line',
                data: toXY(raio),
                borderColor: '#ff0000',
                borderWidth: 1.2,
                pointRadius: 0,
                tension: 0,
                order: 0
            }, {
                label: seriesLabel,
                data: toXY(points),
                backgroundColor: pointColor,
                borderWidth: 0,
                pointRadius: 1.5,
                order: 1
            }]
        },
        options: {
            responsive: false,
            animation: false,
            devicePixelRatio: 1,
            layout: { padding: { top: 48, bottom: padBottom, left: 0, right: 27 } },
            plugins: {
                legend: { display: false },
                title: { display: false },
                tooltip: { enabled: false }
            },
            scales: {
                x: {
                    type: 'linear',
                    min: xTicks[0],
                    max: xTicks[xTicks.length - 1],
                    position: { y: 0 },
                    afterBuildTicks: (s) => { s.ticks = xTicks.map(v => ({ value: v })); },
                    afterFit: (s) => { s.height = 0; s.paddingLeft = 0; s.paddingRight = 0; },
                    ticks: {
                        color: '#404040', font: { family: 'DejaVu Sans', size: 9.5 }, padding: 4,
                        maxRotation: 0, autoSkip: false,
                        callback: (v) => String(v)   // no thousands separator
                    },
                    grid: { drawOnChartArea: false, tickLength: 4, color: axisColor },
                    border: { color: axisColor, width: 1 }
                },
                y: {
                    min: yTicks[0],
                    max: yTicks[yTicks.length - 1],
                    afterBuildTicks: (s) => { s.ticks = yTicks.map(v => ({ value: v })); },
                    afterFit: (s) => { s.width = 36; s.paddingTop = 0; s.paddingBottom = 0; },
                    ticks: { color: '#404040', font: { family: 'DejaVu Sans', size: 9.5 }, padding: 5 },
                    grid: { drawOnChartArea: false, tickLength: 5, color: axisColor },
                    border: { color: axisColor, width: 1 },
                    title: {
                        display: true,
                        text: yAxisTitle,
                        color: '#222',
                        font: { family: 'Liberation Sans', size: 8.5 },
                        padding: { top: 4, bottom: 0 }
                    }
                }
            }
        }
    });
}

drawPanel('chartTop', deltaForca, '#0000ff', 'Δ Força Lateral', 2);
drawPanel('chartBottom', forcaSemAlinhamento, '#1fa85a', 'Força Lateral (SEM Alinhamento)', 6);
</script>
</body>
</html>
